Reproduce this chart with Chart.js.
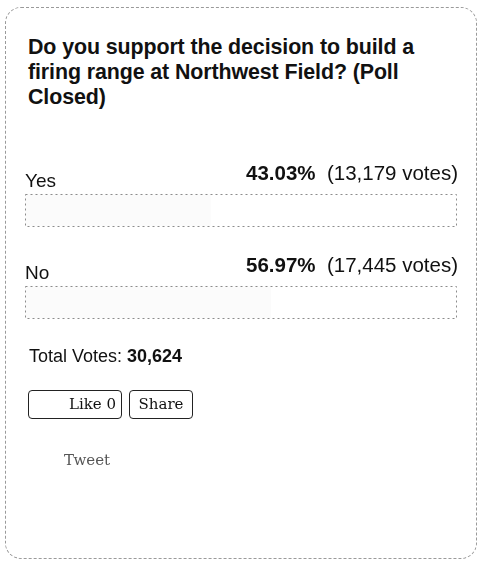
<!DOCTYPE html>
<html>
<head>
<meta charset="utf-8">
<script src="https://cdn.jsdelivr.net/npm/chart.js@4.4.1/dist/chart.umd.min.js"></script>
<style>
  html, body { margin: 0; padding: 0; background: #fff; }
  body { width: 482px; height: 566px; position: relative; overflow: hidden;
         font-family: "Liberation Sans", Arial, sans-serif; color: #111; }
  .box { position: absolute; left: 5px; top: 7px; width: 470px; height: 550px;
         border: 1px dashed #9a9a9a; border-radius: 16px; }
  .title { position: absolute; left: 28px; top: 35px; font-size: 21.4px; font-weight: bold;
           line-height: 25px; margin: 0; letter-spacing: -0.1px; }
  #wrap { position: absolute; left: 0; top: 150px; width: 482px; height: 200px; }
  .total { position: absolute; left: 29px; top: 346px; font-size: 18px; }
  .btn { position: absolute; top: 390px; height: 27px; border: 1.5px solid #222; border-radius: 4px;
         font-family: "DejaVu Serif", serif; font-size: 15px; line-height: 27px; box-sizing: content-box; }
  .like { left: 28px; width: 92px; text-align: right; }
  .like span { padding-right: 5px; }
  .share { left: 129px; width: 62px; text-align: center; }
  .tweet { position: absolute; left: 64px; top: 451px; font-family: "DejaVu Serif", serif;
           font-size: 15px; color: #555; }
</style>
</head>
<body>
<div class="box"></div>
<h1 class="title">Do you support the decision to build a<br>firing range at Northwest Field? (Poll<br>Closed)</h1>
<div id="wrap"><canvas id="poll"></canvas></div>
<div class="total">Total Votes: <b>30,624</b></div>
<div class="btn like"><span>Like 0</span></div>
<div class="btn share">Share</div>
<div class="tweet">Tweet</div>

<script>
// ── DATA ──
const options  = ['Yes', 'No'];
const percents = [43.03, 56.97];
const votes    = ['13,179', '17,445'];

// dotted track + labels above each bar
const pollLabels = {
    id: 'pollLabels',
    afterDatasetsDraw(chart) {
        const ctx = chart.ctx;
        const xs  = chart.scales.x;
        const meta = chart.getDatasetMeta(0);
        meta.data.forEach((bar, i) => {
            const h = bar.height;
            ctx.save();
            ctx.strokeStyle = '#8c8c8c';
            ctx.lineWidth = 1;
            ctx.setLineDash([2, 3]);
            ctx.strokeRect(xs.left + 0.5, bar.y - h / 2 + 0.5, xs.right - xs.left, h);
            ctx.setLineDash([]);

            ctx.fillStyle = '#111';
            ctx.textBaseline = 'alphabetic';
            ctx.textAlign = 'left';
            ctx.font = '19px "Liberation Sans", Arial, sans-serif';
            ctx.fillText(options[i], xs.left + 0, bar.y - 23);

            const rest = '  (' + votes[i] + ' votes)';
            ctx.font = '20.5px "Liberation Sans", Arial, sans-serif';
            const wRest = ctx.measureText(rest).width;
            ctx.textAlign = 'right';
            ctx.fillText(rest, xs.right + 2, bar.y - 30);
            ctx.font = 'bold 20.5px "Liberation Sans", Arial, sans-serif';
            ctx.fillText(percents[i].toFixed(2) + '%', xs.right + 2 - wRest, bar.y - 30);
            ctx.restore();
        });
    }
};

new Chart(document.getElementById('poll'), {
    type: 'bar',
    data: {
        labels: options,
        datasets: [{
            data: percents,
            backgroundColor: 'rgba(210,210,210,0.08)',
            borderWidth: 0,
            barThickness: 32
        }]
    },
    options: {
        indexAxis: 'y',
        responsive: true,
        maintainAspectRatio: false,
        animation: false,
        layout: { padding: { left: 25, right: 26, top: 14, bottom: 2 } },
        plugins: { legend: { display: false }, tooltip: { enabled: false } },
        scales: {
            x: { display: false, min: 0, max: 100 },
            y: { display: false }
        }
    },
    plugins: [pollLabels]
});
</script>
</body>
</html>
